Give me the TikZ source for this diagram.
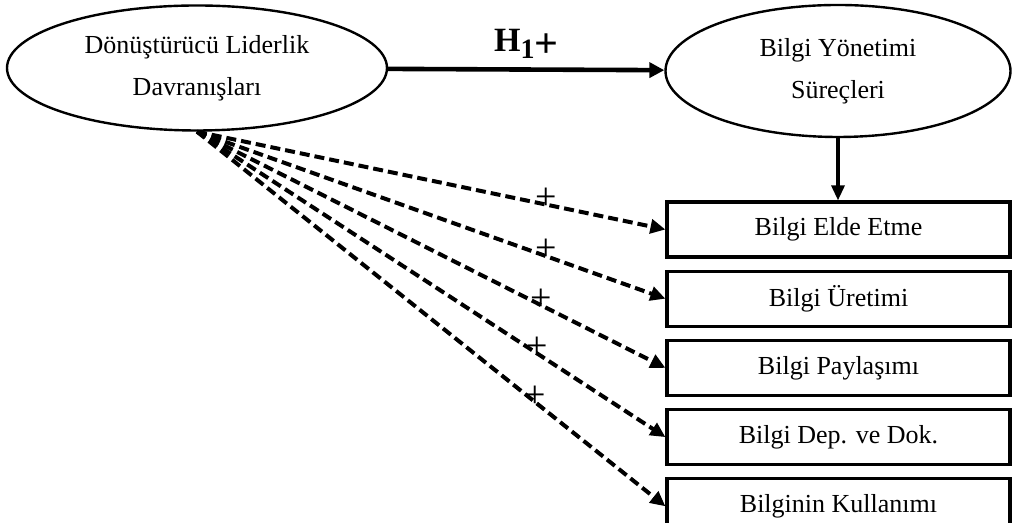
\documentclass[tikz,border=0pt]{standalone}
\usepackage{fontspec}
\setmainfont{Liberation Serif}
\usepackage{tikz}
\usetikzlibrary{arrows.meta,positioning,shapes.geometric}

\begin{document}
\begin{tikzpicture}[
  x=1pt,y=1pt,
  font=\fontsize{13}{21}\selectfont,
  node distance=5.5pt,
  oval/.style={draw,ellipse,line width=1.2pt,inner sep=0pt,align=center},
  kutu/.style={draw,line width=1.6pt,minimum width=171.5pt,minimum height=27.5pt,inner sep=0pt},
  flow/.style={-{Triangle[length=7.5pt,width=7.5pt]},line width=2.3pt},
  down/.style={-{Triangle[length=7.5pt,width=6.5pt]},line width=1.6pt},
  kesikok/.style={-{Triangle[length=7.5pt,width=7pt]},line width=2pt,dash pattern=on 5pt off 2.5pt},
  arti/.style={font=\fontsize{19}{19}\selectfont,inner sep=0pt,yshift=3pt}
]
\useasboundingbox (0,0) rectangle (506,261.5);
\node[oval,minimum width=190pt,minimum height=62.5pt] (dlb) at (98.5,227.5) {Dönüştürücü Liderlik\\Davranışları};
\node[oval,minimum width=172.5pt,minimum height=66pt] (bys) at (419,226) {Bilgi Yönetimi\\Süreçleri};
\node[kutu] (elde) at (419.25,146.75) {Bilgi Elde Etme};
\node[kutu,below=of elde] (uret) {Bilgi Üretimi};
\node[kutu,below=of uret] (pay) {Bilgi Paylaşımı};
\node[kutu,below=of pay] (dep) {Bilgi Dep. ve Dok.};
\node[kutu,below=of dep] (kul) {Bilginin Kullanımı};
\draw[flow] (dlb) -- node[above=1pt,font=\fontsize{17}{17}\selectfont\bfseries]{H\raisebox{-3.5pt}{\fontsize{14}{14}\selectfont 1}\raisebox{-3pt}{\fontsize{21}{21}\selectfont+}} (bys);
\draw[down] (bys.south) -- (bys.south |- elde.north);
\foreach \kt/\ps in {elde/0.745,uret/0.745,pay/0.735,dep/0.727,kul/0.723}
  \draw[kesikok] (dlb.south) -- node[arti,pos=\ps]{+} (\kt.west);
\end{tikzpicture}
\end{document}
